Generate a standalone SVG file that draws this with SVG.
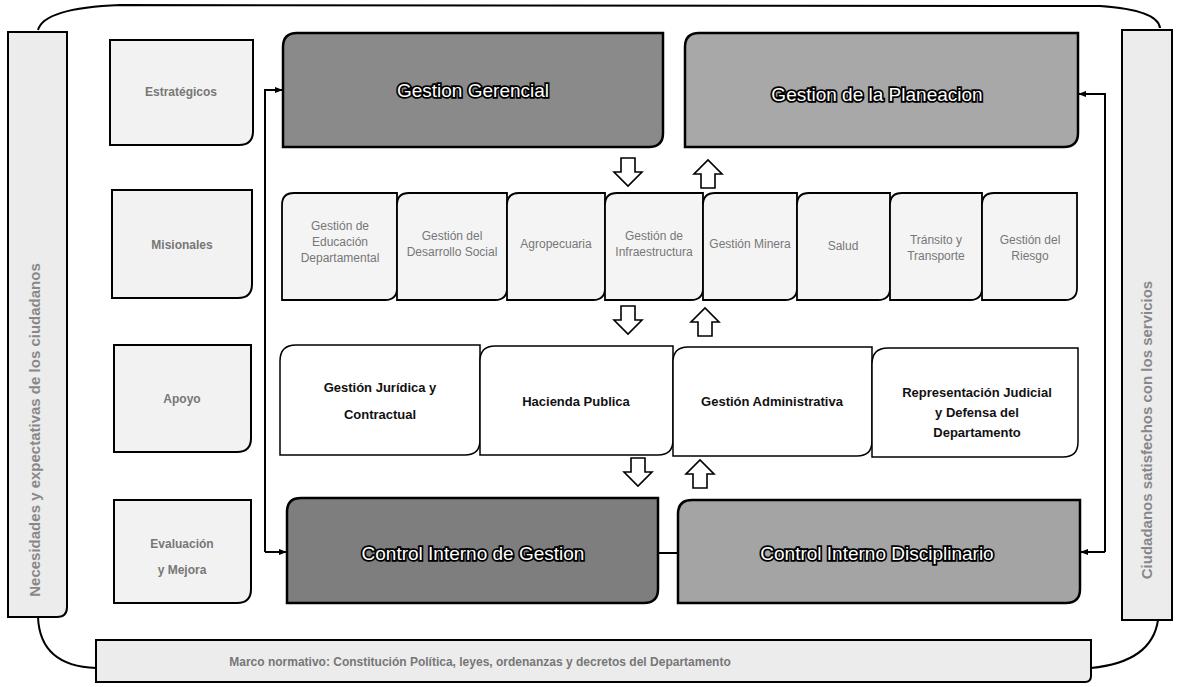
<svg xmlns="http://www.w3.org/2000/svg" width="1180" height="687" viewBox="0 0 1180 687">
<defs>
<style>
.ln{fill:none;stroke:#000;stroke-width:2}
.band{fill:#ececec;stroke:#000;stroke-width:2}
.cat{fill:#f2f2f2;stroke:#000;stroke-width:2}
.hd{stroke:#000;stroke-width:2.5}
.mis{fill:#f4f4f4;stroke:#000;stroke-width:1.8}
.sup{fill:#fff;stroke:#000;stroke-width:1.5}
.ba{fill:#fff;stroke:#000;stroke-width:1.6;stroke-linejoin:miter}
.ht{font-family:"Liberation Sans",Arial,sans-serif;font-size:19px;fill:#fff;stroke:#000;stroke-width:3.5;paint-order:stroke;text-anchor:middle;dominant-baseline:central}
.st{font-family:"Liberation Sans",Arial,sans-serif;font-size:13px;font-weight:bold;fill:#111;text-anchor:middle}
.gt{font-family:"Liberation Sans",Arial,sans-serif;font-size:12px;fill:#777;text-anchor:middle}
.vt{font-family:"Liberation Sans",Arial,sans-serif;font-size:15px;font-weight:bold;fill:#888;text-anchor:middle}
</style>
<marker id="ah" viewBox="0 0 10 10" refX="9" refY="5" markerWidth="8" markerHeight="8" orient="auto" markerUnits="userSpaceOnUse">
<path d="M0,1 L10,5 L0,9 z" fill="#000"/>
</marker>
</defs>

<g id="frame">
<path class="ln" d="M38,30 Q44,8 120,5 L1100,6 Q1158,10 1160,28"/>
<path class="ln" d="M38,617 Q40,666 96,668"/>
<path class="ln" d="M1091,668 Q1152,662 1158,620"/>
</g>

<g id="band-left">
<path class="band" d="M8,32 H67 V607 Q67,617 57,617 H8 Z"/>
<text class="vt" transform="translate(40,430) rotate(-90)">Necesidades y expectativas de los ciudadanos</text>
</g>
<g id="band-right">
<path class="band" d="M1122,30 H1172 V620 H1122 Z"/>
<text class="vt" transform="translate(1152,430) rotate(-90)">Ciudadanos satisfechos con los servicios</text>
</g>
<g id="band-bottom">
<path class="band" d="M96,640 H1091 V676 Q1091,682 1085,682 H96 Z"/>
<text class="gt" x="480" y="666" font-weight="bold">Marco normativo: Constitución Política, leyes, ordenanzas y decretos del Departamento</text>
</g>

<g id="cat-estrategicos">
<path class="cat" d="M110,40 H253 V131 Q253,145 239,145 H110 Z"/>
<text class="gt" x="181" y="96" font-size="14" font-weight="bold">Estratégicos</text>
</g>
<g id="cat-misionales">
<path class="cat" d="M112,190 H252 V284 Q252,298 238,298 H112 Z"/>
<text class="gt" x="182" y="249" font-size="14" font-weight="bold">Misionales</text>
</g>
<g id="cat-apoyo">
<path class="cat" d="M114,345 H251 V438 Q251,452 237,452 H114 Z"/>
<text class="gt" x="182" y="403" font-size="14" font-weight="bold">Apoyo</text>
</g>
<g id="cat-evaluacion">
<path class="cat" d="M114,500 H251 V589 Q251,603 237,603 H114 Z"/>
<text class="gt" x="182" y="548" font-size="14" font-weight="bold">Evaluación</text>
<text class="gt" x="182" y="574" font-size="14" font-weight="bold">y Mejora</text>
</g>

<g id="n-gerencial">
<path class="hd" fill="#8a8a8a" d="M297,33 H663 V133 Q663,147 649,147 H283 V47 Q283,33 297,33 Z"/>
<text class="ht" x="473" y="90">Gestion Gerencial</text>
</g>
<g id="n-planeacion">
<path class="hd" fill="#a8a8a8" d="M699,33 H1078 V133 Q1078,147 1064,147 H685 V47 Q685,33 699,33 Z"/>
<text class="ht" x="877" y="94">Gestion de la Planeacion</text>
</g>

<g id="n-misionales">
<path class="mis" d="M294,193 H397 V288 Q397,300 385,300 H282 V205 Q282,193 294,193 Z"/>
<text class="gt" x="340" y="230">Gestión de</text><text class="gt" x="340" y="246">Educación</text><text class="gt" x="340" y="262">Departamental</text>
<path class="mis" d="M409,193 H507 V288 Q507,300 495,300 H397 V205 Q397,193 409,193 Z"/>
<text class="gt" x="452" y="240">Gestión del</text><text class="gt" x="452" y="256">Desarrollo Social</text>
<path class="mis" d="M519,193 H605 V288 Q605,300 593,300 H507 V205 Q507,193 519,193 Z"/>
<text class="gt" x="556" y="248">Agropecuaria</text>
<path class="mis" d="M617,193 H703 V288 Q703,300 691,300 H605 V205 Q605,193 617,193 Z"/>
<text class="gt" x="654" y="240">Gestión de</text><text class="gt" x="654" y="256">Infraestructura</text>
<path class="mis" d="M715,193 H797 V288 Q797,300 785,300 H703 V205 Q703,193 715,193 Z"/>
<text class="gt" x="750" y="248">Gestión Minera</text>
<path class="mis" d="M809,193 H890 V288 Q890,300 878,300 H797 V205 Q797,193 809,193 Z"/>
<text class="gt" x="843" y="250">Salud</text>
<path class="mis" d="M902,193 H982 V288 Q982,300 970,300 H890 V205 Q890,193 902,193 Z"/>
<text class="gt" x="936" y="244">Tránsito y</text><text class="gt" x="936" y="260">Transporte</text>
<path class="mis" d="M994,193 H1077 V288 Q1077,300 1065,300 H982 V205 Q982,193 994,193 Z"/>
<text class="gt" x="1030" y="244">Gestión del</text><text class="gt" x="1030" y="260">Riesgo</text>
</g>

<g id="n-juridica">
<path class="sup" d="M296,345 H480 V440 Q480,455 465,455 H280 V361 Q280,345 296,345 Z"/>
<text class="st" x="380" y="392">Gestión Jurídica y</text>
<text class="st" x="380" y="419">Contractual</text>
</g>
<g id="n-hacienda">
<path class="sup" d="M495,346 H673 V440 Q673,455 658,455 H480 V361 Q480,346 495,346 Z"/>
<text class="st" x="576" y="406">Hacienda Publica</text>
</g>
<g id="n-administrativa">
<path class="sup" d="M688,347 H872 V441 Q872,456 857,456 H673 V362 Q673,347 688,347 Z"/>
<text class="st" x="772" y="406">Gestión Administrativa</text>
</g>
<g id="n-representacion">
<path class="sup" d="M888,348 H1078 V442 Q1078,457 1063,457 H872 V364 Q872,348 888,348 Z"/>
<text class="st" x="977" y="397">Representación Judicial</text>
<text class="st" x="977" y="417">y Defensa del</text>
<text class="st" x="977" y="437">Departamento</text>
</g>

<g id="n-control-gestion">
<path class="hd" fill="#7e7e7e" d="M301,498 H658 V589 Q658,603 644,603 H287 V512 Q287,498 301,498 Z"/>
<text class="ht" x="473" y="553">Control Interno de Gestion</text>
</g>
<g id="n-control-disciplinario">
<path class="hd" fill="#a4a4a4" d="M692,500 H1080 V589 Q1080,603 1066,603 H678 V514 Q678,500 692,500 Z"/>
<text class="ht" x="877" y="553">Control Interno Disciplinario</text>
</g>

<g id="connectors">
<path class="ln" d="M265,552 V90 H282" marker-end="url(#ah)"/>
<path class="ln" d="M265,552 H286" marker-end="url(#ah)"/>
<path class="ln" d="M1105,552 V94 H1079" marker-end="url(#ah)"/>
<path class="ln" d="M1105,552 H1081" marker-end="url(#ah)"/>
<path class="ln" d="M658,553 H678"/>
<path class="ba" d="M621,158 h14 v14 h7 l-14,14 l-14,-14 h7 z"/>
<path class="ba" d="M701,188 h14 v-14 h7 l-14,-14 l-14,14 h7 z"/>
<path class="ba" d="M621,306 h14 v14 h7 l-14,14 l-14,-14 h7 z"/>
<path class="ba" d="M698,336 h14 v-14 h7 l-14,-14 l-14,14 h7 z"/>
<path class="ba" d="M631,458 h14 v14 h7 l-14,14 l-14,-14 h7 z"/>
<path class="ba" d="M693,488 h14 v-14 h7 l-14,-14 l-14,14 h7 z"/>
</g>
</svg>
